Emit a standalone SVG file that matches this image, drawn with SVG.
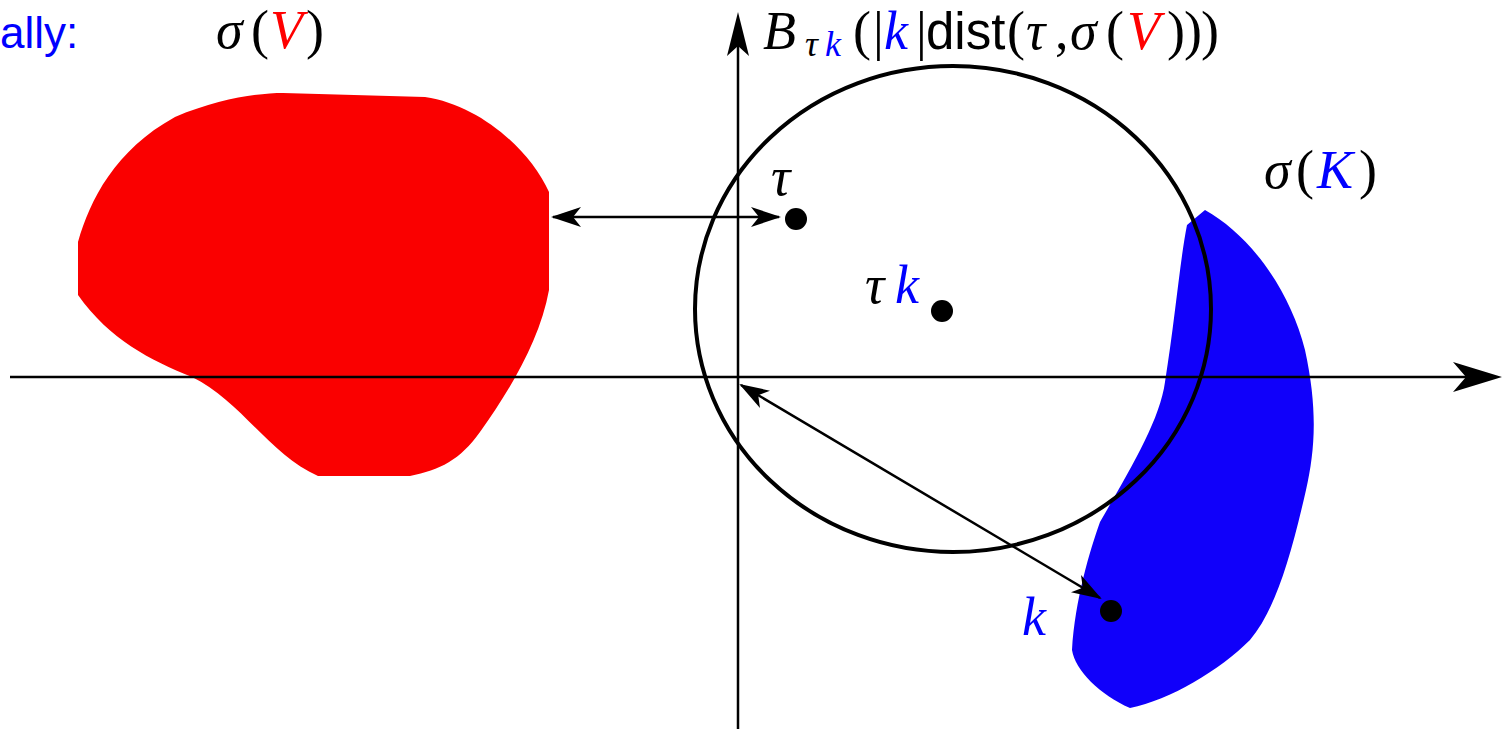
<svg xmlns="http://www.w3.org/2000/svg" width="1503" height="729" viewBox="0 0 1503 729">
<style>
.m{font-family:"Liberation Serif",serif;font-size:54px;fill:#000}
.i{font-style:italic}
.s{font-family:"Liberation Sans",sans-serif}
.b{fill:#0000ff}
.r{fill:#ff0000}
.ax{stroke:#000;stroke-width:2.5;fill:none}
.dot{fill:#000}
</style>
<defs>
<marker id="ah" viewBox="0 0 30 20" refX="28" refY="10" markerWidth="30" markerHeight="20" markerUnits="userSpaceOnUse" orient="auto-start-reverse">
<path d="M30,10 L0,0 L8,10 L0,20 Z" fill="#000"/>
</marker>
</defs>
<g id="shapes">
<path id="redblob" fill="#fa0000" d="M283,93 L425,97 C480,105 530,150 549,192 L549,290 C540,340 510,390 480,432 C460,460 440,470 410,476 L318,476 C270,455 240,400 192,377 C150,360 110,340 78,295 L78,242 C90,200 115,150 175,117 C220,98 260,93 283,93 Z"/>
<path id="blueblob" fill="#1000fa" d="M1205,210 C1250,235 1290,290 1305,350 C1318,410 1315,450 1306,490 C1290,560 1275,610 1250,640 C1220,670 1170,700 1130,708 C1100,695 1075,670 1072,650 C1075,600 1090,550 1100,522 C1130,470 1160,420 1165,382 C1175,320 1180,260 1187,225 Z"/>
</g>
<g id="axes">
<line class="ax" x1="10" y1="377" x2="1470" y2="377"/>
<path d="M1502,377 L1453,362 L1466,377 L1453,392 Z" fill="#000"/>
<line class="ax" x1="738" y1="729" x2="738" y2="45"/>
<path d="M738,12 L727,56 L738,46 L749,56 Z" fill="#000"/>
</g>
<g id="circle">
<ellipse cx="953" cy="309" rx="258" ry="243" fill="none" stroke="#000" stroke-width="4"/>
</g>
<g id="connectors">
<line x1="553" y1="217" x2="779" y2="217" stroke="#000" stroke-width="2.5" marker-start="url(#ah)" marker-end="url(#ah)"/>
<line x1="741" y1="385" x2="1100" y2="598" stroke="#000" stroke-width="2.5" marker-start="url(#ah)" marker-end="url(#ah)"/>
</g>
<g id="points">
<circle id="tau" class="dot" cx="796" cy="219" r="11"/>
<circle id="tauk" class="dot" cx="942" cy="311" r="11"/>
<circle id="k" class="dot" cx="1111" cy="611" r="11"/>
</g>
<g id="labels">
<text class="s b" x="0" y="48" font-size="44">ally:</text>
<text class="m" y="48"><tspan class="i" x="216">σ</tspan><tspan x="251">(</tspan><tspan class="i r" x="270">V</tspan><tspan x="306">)</tspan></text>
<text class="m" y="49"><tspan class="i" x="763">B</tspan><tspan class="i" font-size="36" x="805" y="56">τ</tspan><tspan class="i b" font-size="36" x="825" y="56">k</tspan><tspan x="853" y="49">(</tspan><tspan x="873">|</tspan><tspan class="i b" x="884">k</tspan><tspan x="916">|</tspan><tspan class="s" font-size="51" x="926">dist</tspan><tspan x="1007">(</tspan><tspan class="i" x="1026">τ</tspan><tspan x="1055">,</tspan><tspan class="i" x="1070">σ</tspan><tspan x="1106">(</tspan><tspan class="i r" x="1127">V</tspan><tspan x="1167">)</tspan><tspan x="1184">)</tspan><tspan x="1201">)</tspan></text>
<text class="m i" x="771" y="195">τ</text>
<text class="m i" y="303"><tspan x="865">τ</tspan><tspan class="b" x="895">k</tspan></text>
<text class="m i b" x="1022" y="635">k</text>
<text class="m" y="188"><tspan class="i" x="1264">σ</tspan><tspan x="1296">(</tspan><tspan class="i b" x="1317">K</tspan><tspan x="1359">)</tspan></text>
</g>
</svg>
